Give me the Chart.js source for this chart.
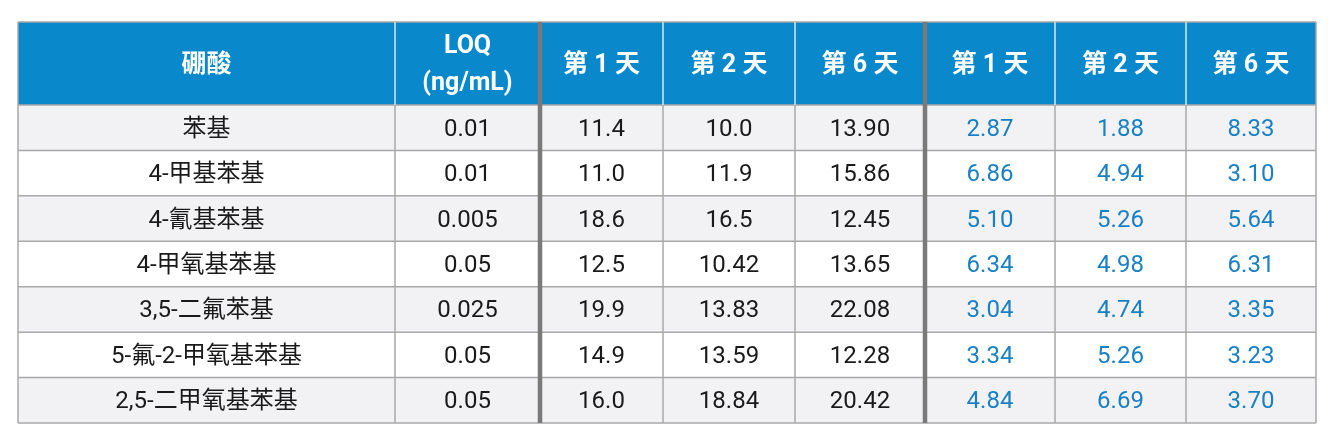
<!DOCTYPE html>
<html><head><meta charset="utf-8">
<script src="https://cdn.jsdelivr.net/npm/chart.js@4"></script>
<style>html,body{margin:0;background:#fff}#w{width:1333px;height:445px}</style>
</head><body><div id="w"><canvas id="c"></canvas></div>
<script>
const headers = ["硼酸", "LOQ\n(ng/mL)", "第 1 天", "第 2 天", "第 6 天", "第 1 天", "第 2 天", "第 6 天"];
const acids = ["苯基", "4-甲基苯基", "4-氰基苯基", "4-甲氧基苯基", "3,5-二氟苯基", "5-氟-2-甲氧基苯基", "2,5-二甲氧基苯基"];
const loq = ["0.01", "0.01", "0.005", "0.05", "0.025", "0.05", "0.05"];
const groupA1 = ["11.4", "11.0", "18.6", "12.5", "19.9", "14.9", "16.0"];
const groupA2 = ["10.0", "11.9", "16.5", "10.42", "13.83", "13.59", "18.84"];
const groupA6 = ["13.90", "15.86", "12.45", "13.65", "22.08", "12.28", "20.42"];
const groupB1 = ["2.87", "6.86", "5.10", "6.34", "3.04", "3.34", "4.84"];
const groupB2 = ["1.88", "4.94", "5.26", "4.98", "4.74", "5.26", "6.69"];
const groupB6 = ["8.33", "3.10", "5.64", "6.31", "3.35", "3.23", "3.70"];

const colEdges = [0, 377, 522, 645, 777, 907, 1037, 1168, 1298];
const headerH = 83;
const cols = [acids, loq, groupA1, groupA2, groupA6, groupB1, groupB2, groupB6];

const tablePlugin = {
  id: 'table',
  afterDraw(chart) {
    const ctx = chart.ctx, a = chart.chartArea;
    const x0 = a.left, y0 = a.top;
    const rowH = (a.bottom - a.top - headerH) / acids.length;
    ctx.save();
    ctx.fillStyle = '#0a88cc';
    ctx.fillRect(x0, y0, colEdges[8], headerH);
    for (let r = 0; r < acids.length; r++) {
      ctx.fillStyle = r % 2 === 0 ? '#f2f2f5' : '#ffffff';
      ctx.fillRect(x0, y0 + headerH + r * rowH, colEdges[8], rowH);
    }
    ctx.strokeStyle = '#a8a8a8'; ctx.lineWidth = 1.5;
    for (let r = 0; r <= acids.length; r++) {
      const y = y0 + headerH + r * rowH;
      ctx.beginPath(); ctx.moveTo(x0, y); ctx.lineTo(x0 + colEdges[8], y); ctx.stroke();
    }
    ctx.beginPath(); ctx.moveTo(x0, y0); ctx.lineTo(x0 + colEdges[8], y0); ctx.stroke();
    for (let c = 0; c < colEdges.length; c++) {
      const x = x0 + colEdges[c];
      if (c === 2 || c === 5) continue;
      ctx.strokeStyle = c > 0 && c < 8 ? '#d8e8f4' : '#a8a8a8';
      ctx.beginPath(); ctx.moveTo(x, y0); ctx.lineTo(x, y0 + headerH); ctx.stroke();
      ctx.strokeStyle = '#a8a8a8';
      ctx.beginPath(); ctx.moveTo(x, y0 + headerH); ctx.lineTo(x, a.bottom); ctx.stroke();
    }
    ctx.strokeStyle = '#7a7a7a'; ctx.lineWidth = 4.5;
    [2, 5].forEach(c => {
      const x = x0 + colEdges[c];
      ctx.beginPath(); ctx.moveTo(x, y0); ctx.lineTo(x, a.bottom); ctx.stroke();
    });
    ctx.textAlign = 'center'; ctx.textBaseline = 'middle';
    ctx.fillStyle = '#ffffff';
    ctx.font = 'bold 25px Roboto, "Noto Sans CJK SC", sans-serif';
    headers.forEach((h, c) => {
      const cx = x0 + (colEdges[c] + colEdges[c + 1]) / 2;
      const lines = h.split('\n');
      lines.forEach((l, i) => {
        ctx.fillText(l, cx, y0 + headerH / 2 + 2 + (i - (lines.length - 1) / 2) * 37);
      });
    });
    ctx.font = '24px Roboto, "Noto Sans CJK SC", sans-serif';
    cols.forEach((col, c) => {
      const cx = x0 + (colEdges[c] + colEdges[c + 1]) / 2;
      ctx.fillStyle = c >= 5 ? '#1a80c4' : '#1a1a1a';
      col.forEach((v, r) => ctx.fillText(v, cx, y0 + headerH + (r + 0.5) * rowH + 2));
    });
    ctx.restore();
  }
};

new Chart(document.getElementById('c'), {
  type: 'bar',
  data: { labels: acids, datasets: [{ data: [], backgroundColor: 'transparent' }] },
  options: {
    responsive: true, maintainAspectRatio: false, animation: false,
    layout: { padding: { left: 18, right: 17, top: 22, bottom: 22 } },
    plugins: { legend: { display: false }, tooltip: { enabled: false } },
    scales: { x: { display: false }, y: { display: false } }
  },
  plugins: [tablePlugin]
});
</script></body></html>
